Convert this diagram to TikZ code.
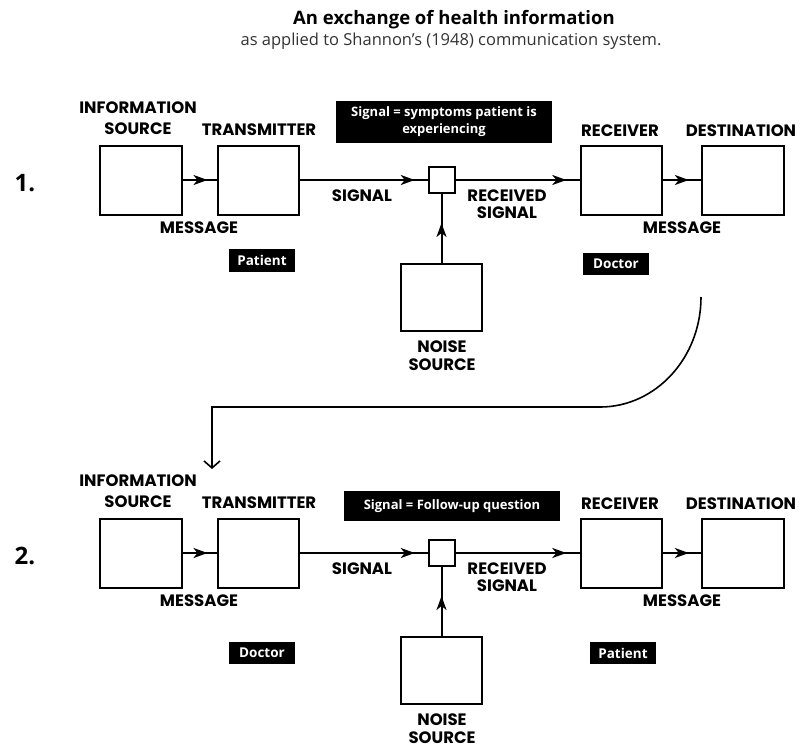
\documentclass[tikz,border=0pt]{standalone}
\usepackage{fontspec}
\setmainfont{Open Sans}
\newfontfamily\lblfont{Poppins}
\usetikzlibrary{arrows.meta,decorations.markings}
\tikzset{
 bx/.style={draw, line width=2pt, minimum width=81pt, minimum height=69pt, inner sep=0pt},
 sbx/.style={draw, line width=2pt, minimum width=26pt, minimum height=26pt, inner sep=0pt},
 lbl/.style={font=\lblfont\bfseries\fontsize{16.5}{18}\selectfont, inner sep=0pt},
 tag/.style={fill=black, text=white, font=\bfseries\fontsize{13.5}{17}\selectfont, inner sep=0pt, minimum height=23pt, minimum width=66pt, align=center},
 sigtag/.style={tag, font=\bfseries\fontsize{13}{17}\selectfont, minimum width=216pt},
 flow/.style={line width=2pt, postaction={decorate}, decoration={markings, mark=at position #1 with {\arrow{Stealth[length=14pt,width=10pt,inset=4pt]}}}},
}
\newcommand\shannonrow[2]{%
\begin{scope}[yshift=#2]
 \node[bx, minimum width=82pt] (#1src) at (141,180) {};
 \node[bx] (#1tx) at (258.5,180) {};
 \node[sbx] (#1sum) at (441.5,180) {};
 \node[bx] (#1rx) at (621.5,180) {};
 \node[bx, minimum width=82pt] (#1dst) at (743,180) {};
 \node[bx, minimum height=67pt] (#1noise) at (441.5,297.5) {};
 \draw[flow=0.72] (#1src) -- (#1tx);
 \draw[flow=0.9] (#1tx) -- (#1sum);
 \draw[flow=0.89] (#1sum) -- (#1rx);
 \draw[flow=0.68] (#1rx) -- (#1dst);
 \draw[flow=0.58] (#1noise) -- (#1sum);
 \node[lbl] (#1lInfo) at (138,108) {INFORMATION};
 \node[lbl] (#1lSrc) at (138,129) {SOURCE};
 \node[lbl] (#1lTx) at (259,130) {TRANSMITTER};
 \node[lbl] (#1lRx) at (620,131) {RECEIVER};
 \node[lbl] (#1lDst) at (741,131) {DESTINATION};
 \node[lbl] (#1lMsgA) at (199,228) {MESSAGE};
 \node[lbl] (#1lMsgB) at (682,228) {MESSAGE};
 \node[lbl] (#1lSig) at (362,196) {SIGNAL};
 \node[lbl] (#1lRec) at (507,196) {RECEIVED};
 \node[lbl] (#1lRecS) at (507,213) {SIGNAL};
 \node[lbl] (#1lNoise) at (442,347) {NOISE};
 \node[lbl] (#1lNoiseS) at (442,365) {SOURCE};
\end{scope}}
\begin{document}
\begin{tikzpicture}[x=1pt,y=-1pt]
\useasboundingbox (0,0) rectangle (802,748);
\node[font=\bfseries\fontsize{18.5}{20}\selectfont] (title) at (454,20) {An exchange of health information};
\node[font=\fontsize{16.5}{18}\selectfont, text=black!80] (sub) at (451,41) {as applied to Shannon’s (1948) communication system.};
\node[font=\bfseries\fontsize{24}{26}\selectfont] (n1) at (25,183) {1.};
\node[font=\bfseries\fontsize{24}{26}\selectfont] (n2) at (25,556) {2.};
\shannonrow{a}{0pt}
\shannonrow{b}{-373pt}
\node[tag] (pat1) at (262,260.5) {Patient};
\node[tag, minimum height=22pt] (doc1) at (616,264) {Doctor};
\node[sigtag, minimum height=42pt] (sig1) at (444,122) {Signal = symptoms patient is\\experiencing};
\node[tag, minimum height=22pt] (doc2) at (262,653) {Doctor};
\node[tag, minimum height=22pt] (pat2) at (623,653) {Patient};
\node[sigtag, minimum height=30pt] (sig2) at (452,506) {Signal = Follow-up question};
\coordinate (cs) at (701,297);
\coordinate (cm) at (212,407);
\coordinate (ce) at (212,469);
\draw[line width=1.6pt, -{Straight Barb[length=7pt,width=16pt]}] (cs) .. controls (701,357.75) and (655.8,407) .. (600,407) -- (cm) -- (ce);
\end{tikzpicture}
\end{document}
